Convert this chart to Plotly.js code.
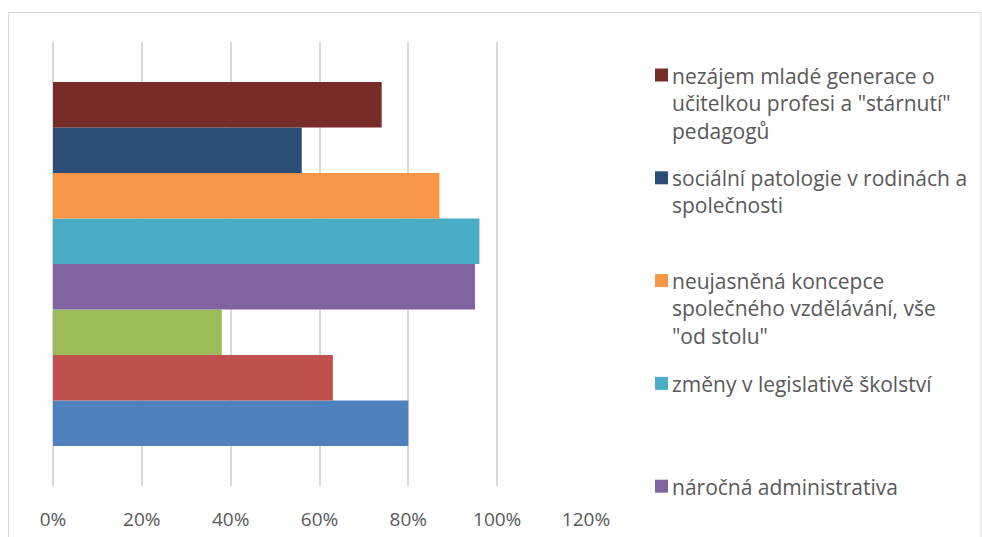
<!DOCTYPE html>
<html>
<head>
<meta charset="utf-8">
<script src="https://cdn.plot.ly/plotly-3.0.1.min.js"></script>
<style>html,body{margin:0;padding:0;background:#fff;}#chart{width:982px;height:537px;}</style>
</head>
<body>
<div id="chart"></div>
<script>
// Series in plotting order (first = bottom bar)
const seriesNames = [
  "",
  "",
  "",
  "náročná administrativa",
  "změny v legislativě školství",
  "neujasněná koncepce<br>společného vzdělávání, vše<br>\"od stolu\"",
  "sociální patologie v rodinách a<br>společnosti",
  "nezájem mladé generace o<br>učitelkou profesi a \"stárnutí\"<br>pedagogů"
];
const seriesValues = [0.80, 0.63, 0.38, 0.95, 0.96, 0.87, 0.56, 0.74];
const seriesColors = ["#4F81BD", "#C0504D", "#9BBB59", "#8064A2", "#4BACC6", "#F79646", "#2C4D75", "#772C2A"];
const category = [""];
const tickValues = [0, 0.2, 0.4, 0.6, 0.8, 1.0, 1.2];
const tickLabels = ["0%", "20%", "40%", "60%", "80%", "100%", "120%"];

const W = 982, H = 537;
const M = {l: 53, r: W - 586, t: 42, b: H - 486};
const pw = W - M.l - M.r, ph = H - M.t - M.b;
const px2x = px => (px - M.l) / pw;
const py2y = py => (H - M.b - py) / ph;
const FONT = "'Open Sans', sans-serif";

const traces = seriesValues.map((v, i) => ({
  type: "bar",
  orientation: "h",
  name: seriesNames[i],
  x: [v],
  y: category,
  marker: {color: seriesColors[i], line: {width: 0}},
  hoverinfo: "x+name",
  showlegend: false
}));

// Custom legend (Excel-style fixed slots), top item = last series
const shapes = [{
  type: "rect", xref: "paper", yref: "paper",
  x0: px2x(8.5), x1: px2x(981), y0: py2y(12.5), y1: py2y(540),
  line: {color: "#D9D9D9", width: 1}, fillcolor: "rgba(0,0,0,0)", layer: "below"
}];
const annotations = [];
let slot = 0;
for (let i = seriesNames.length - 1; i >= 0; i--) {
  if (!seriesNames[i]) continue;
  const cy = 75 + slot * 102.8;
  shapes.push({
    type: "rect", xref: "paper", yref: "paper",
    x0: px2x(655), x1: px2x(668), y0: py2y(cy - 6.5), y1: py2y(cy + 6.5),
    line: {width: 0}, fillcolor: seriesColors[i]
  });
  annotations.push({
    xref: "paper", yref: "paper", x: px2x(670), y: py2y(cy - 15.5),
    xanchor: "left", yanchor: "top", align: "left", showarrow: false,
    text: seriesNames[i],
    font: {family: FONT, size: 21, color: "#595959"}
  });
  slot++;
}

const layout = {
  width: W, height: H,
  margin: M,
  paper_bgcolor: "#ffffff", plot_bgcolor: "#ffffff",
  barmode: "group", bargap: 0.18, bargroupgap: 0,
  showlegend: false,
  xaxis: {
    range: [0, 1.2], tickvals: tickValues, ticktext: tickLabels,
    showgrid: true, gridcolor: "#D9D9D9", gridwidth: 1.5,
    zeroline: true, zerolinecolor: "#D9D9D9", zerolinewidth: 1.5,
    showline: false, ticks: "", ticklabelstandoff: 20,
    tickfont: {family: FONT, size: 19, color: "#595959"},
    fixedrange: true
  },
  yaxis: {
    showticklabels: false, showgrid: false, zeroline: false, showline: false, ticks: "",
    fixedrange: true
  },
  shapes: shapes,
  annotations: annotations
};

Plotly.newPlot("chart", traces, layout, {displayModeBar: false, responsive: false});
</script>
</body>
</html>
